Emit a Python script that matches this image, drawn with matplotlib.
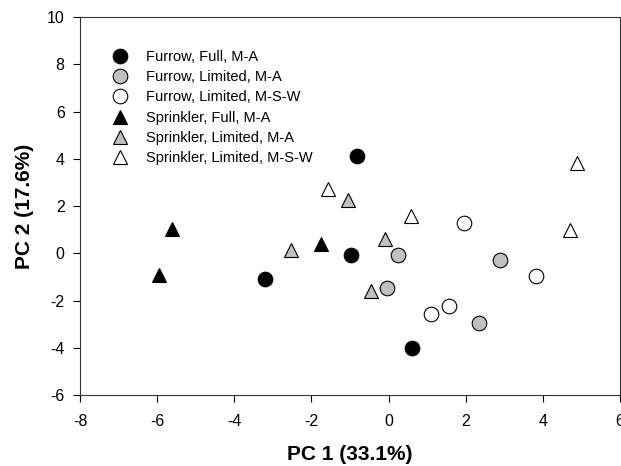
import matplotlib
matplotlib.use("Agg")
import matplotlib.pyplot as plt

plt.rcParams['font.family'] = ['Liberation Sans', 'DejaVu Sans']
plt.rcParams['axes.unicode_minus'] = False

series_names = ["Furrow, Full, M-A", "Furrow, Limited, M-A", "Furrow, Limited, M-S-W",
                "Sprinkler, Full, M-A", "Sprinkler, Limited, M-A", "Sprinkler, Limited, M-S-W"]

ff_x = [-0.83, -3.21, -0.98, 0.60]
ff_y = [4.12, -1.10, -0.08, -4.00]
flma_x = [0.25, 2.90, -0.05, 2.34]
flma_y = [-0.06, -0.27, -1.45, -2.95]
flmsw_x = [1.95, 3.81, 1.56, 1.11]
flmsw_y = [1.28, -0.97, -2.25, -2.56]
sf_x = [-5.96, -5.62, -1.74]
sf_y = [-0.90, 1.03, 0.41]
slma_x = [-2.54, -1.05, -0.08, -0.45]
slma_y = [0.13, 2.27, 0.62, -1.61]
slmsw_x = [-1.57, 0.59, 4.89, 4.70]
slmsw_y = [2.71, 1.57, 3.83, 0.97]

xs = [ff_x, flma_x, flmsw_x, sf_x, slma_x, slmsw_x]
ys = [ff_y, flma_y, flmsw_y, sf_y, slma_y, slmsw_y]
markers = ['o', 'o', 'o', '^', '^', '^']
faces = ['black', '#c0c0c0', 'white', 'black', '#c0c0c0', 'white']

fig = plt.figure(figsize=(6.21, 4.66), dpi=100)
ax = fig.add_axes([80/621, 1-395/466, 540/621, 378/466])

for x, y, m, fc, name in zip(xs, ys, markers, faces, series_names):
    ax.plot(x, y, linestyle='none', marker=m, markersize=10.5 if m == 'o' else 10,
            markerfacecolor=fc, markeredgecolor='black', markeredgewidth=0.8, label=name)

ax.set_xlim(-8, 6)
ax.set_ylim(-6, 10)
ax.set_xticks(range(-8, 7, 2))
ax.set_yticks(range(-6, 11, 2))
ax.tick_params(direction='out', length=5, width=0.8, labelsize=11.5, top=False, right=False)
ax.tick_params(axis='x', pad=8.5)
ax.tick_params(axis='y', pad=6)
for s in ax.spines.values():
    s.set_linewidth(0.8)
    s.set_color('#333333')

ax.set_xlabel("PC 1 (33.1%)", fontsize=15, fontweight='bold', labelpad=12)
ax.set_ylabel("PC 2 (17.6%)", fontsize=15, fontweight='bold', labelpad=9)

leg = ax.legend(loc='upper left', bbox_to_anchor=(0.036, 0.9275), frameon=False,
                fontsize=10.5, handletextpad=0.78, labelspacing=0.42, borderaxespad=0,
                handlelength=2.0)

fig.savefig("out.png", dpi=100)
